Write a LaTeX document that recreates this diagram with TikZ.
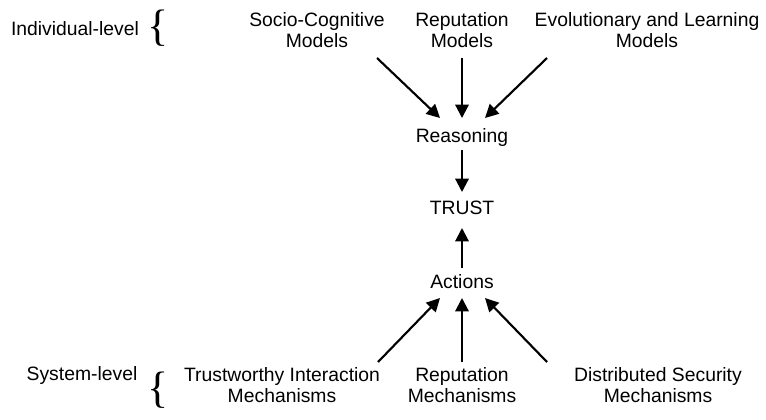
\documentclass[tikz,border=0pt]{standalone}
\usepackage{fontspec}
\setmainfont{Liberation Sans}
\newfontfamily\bracefont{Liberation Serif}
\usetikzlibrary{arrows.meta,calc}
\begin{document}
\begin{tikzpicture}[x=0.75pt,y=-0.75pt,
  lbl/.style={inner sep=0pt,align=center,font=\fontsize{14.5}{15.5}\selectfont},
  brc/.style={inner sep=0pt,font=\bracefont\fontsize{33}{33}\selectfont},
  arr/.style={line width=1.6pt,-{Triangle[length=10pt,width=10pt]}}]
\useasboundingbox (0,0) rectangle (766,419);
% labels
\node[lbl] (ind) at (75,29) {Individual-level};
\node[brc] (b1) at (158,28) {\{};
\node[lbl] (sys) at (82,375) {System-level};
\node[brc] (b2) at (158,390) {\{};
% top sources
\node[lbl] (soc) at (317,30) {Socio-Cognitive\\Models};
\node[lbl] (repm) at (462,30) {Reputation\\Models};
\node[lbl] (evo) at (647,30) {Evolutionary and Learning\\Models};
% middle
\node[lbl] (rea) at (462,137) {Reasoning};
\node[lbl] (trust) at (462,208) {TRUST};
\node[lbl] (act) at (462,282) {Actions};
% bottom sources
\node[lbl] (tim) at (282,385) {Trustworthy Interaction\\Mechanisms};
\node[lbl] (repmech) at (462,385) {Reputation\\Mechanisms};
\node[lbl] (dsm) at (658,385) {Distributed Security\\Mechanisms};
% arrows
\draw[arr] ($(soc)+(60,28)$) -- ($(rea)+(-22,-19)$);
\draw[arr] ($(repm)+(0,28)$) -- ($(rea)+(0,-19)$);
\draw[arr] ($(evo)+(-100,28)$) -- ($(rea)+(23,-19)$);
\draw[arr] ($(rea)+(0,13)$) -- ($(trust)+(0,-16)$);
\draw[arr] ($(act)+(0,-14)$) -- ($(trust)+(0,20)$);
\draw[arr] ($(tim)+(96,-23)$) -- ($(act)+(-22,16)$);
\draw[arr] ($(repmech)+(0,-23)$) -- ($(act)+(0,16)$);
\draw[arr] ($(dsm)+(-111,-23)$) -- ($(act)+(23,16)$);
\end{tikzpicture}
\end{document}
